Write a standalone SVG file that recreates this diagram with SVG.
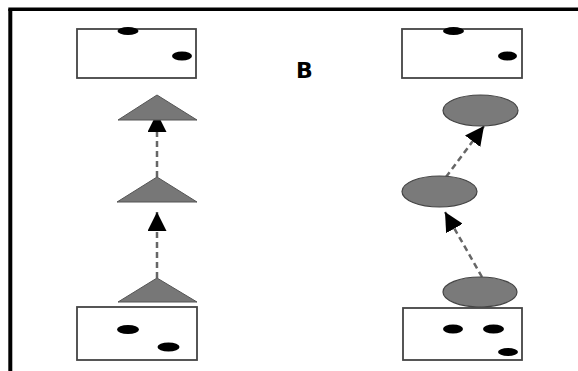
<svg xmlns="http://www.w3.org/2000/svg" width="578" height="371" viewBox="0 0 578 371">
<style>
.box{fill:#fff;stroke:#444;stroke-width:1.8}
.dot{fill:#000}
.tri{fill:#777;stroke:#555;stroke-width:1}
.ell{fill:#7a7a7a;stroke:#444;stroke-width:1.2}
.con{stroke:#666;stroke-width:2.5;stroke-dasharray:6,4;fill:none}
.lbl{font-family:"DejaVu Sans",sans-serif;font-weight:bold;font-size:22px;fill:#000}
</style>
<defs>
<marker id="ah" viewBox="0 0 10 10" refX="10" refY="5" markerWidth="19" markerHeight="19" markerUnits="userSpaceOnUse" orient="auto">
<path d="M0,0 L10,5 L0,10 z" fill="#000"/>
</marker>
</defs>
<rect width="578" height="371" fill="#fff"/>
<g id="frame">
<line x1="8.3" y1="9.3" x2="578" y2="9.3" stroke="#000" stroke-width="3.6"/>
<line x1="10.3" y1="9" x2="10.3" y2="371" stroke="#000" stroke-width="4"/>
</g>
<text class="lbl" x="296" y="78">B</text>
<g id="connectors">
<line class="con" x1="157" y1="177" x2="157" y2="113" marker-end="url(#ah)"/>
<line class="con" x1="157" y1="278" x2="157" y2="212" marker-end="url(#ah)"/>
<line class="con" x1="446" y1="177" x2="484" y2="126" marker-end="url(#ah)"/>
<line class="con" x1="482" y1="277" x2="445" y2="212" marker-end="url(#ah)"/>
</g>
<g id="left-top-box">
<rect class="box" x="77" y="29" width="119" height="49"/>
<ellipse class="dot" cx="128" cy="31" rx="10.5" ry="4"/>
<ellipse class="dot" cx="182" cy="56" rx="10" ry="4.5"/>
</g>
<g id="left-tri-top"><polygon class="tri" points="157,95 197,120 118,120"/></g>
<g id="left-tri-mid"><polygon class="tri" points="157,177 197,202 117,202"/></g>
<g id="left-tri-bot"><polygon class="tri" points="157,278 197,302 118,302"/></g>
<g id="left-bottom-box">
<rect class="box" x="77" y="307" width="120" height="53"/>
<ellipse class="dot" cx="128" cy="329.5" rx="11" ry="4.5"/>
<ellipse class="dot" cx="168.5" cy="347" rx="11" ry="4.5"/>
</g>
<g id="right-top-box">
<rect class="box" x="402" y="29" width="120" height="49"/>
<ellipse class="dot" cx="453.5" cy="31" rx="10.5" ry="4"/>
<ellipse class="dot" cx="507.5" cy="56" rx="9.5" ry="4.5"/>
</g>
<g id="right-ell-top"><ellipse class="ell" cx="480.5" cy="110.5" rx="37.5" ry="15.5"/></g>
<g id="right-ell-mid"><ellipse class="ell" cx="439.5" cy="191.5" rx="37.5" ry="15.5"/></g>
<g id="right-ell-bot"><ellipse class="ell" cx="480" cy="292" rx="37" ry="15"/></g>
<g id="right-bottom-box">
<rect class="box" x="403" y="308" width="119" height="52"/>
<ellipse class="dot" cx="453" cy="329" rx="10" ry="4.5"/>
<ellipse class="dot" cx="493.5" cy="329" rx="10.5" ry="4.5"/>
<ellipse class="dot" cx="508" cy="352" rx="10" ry="4"/>
</g>
</svg>
